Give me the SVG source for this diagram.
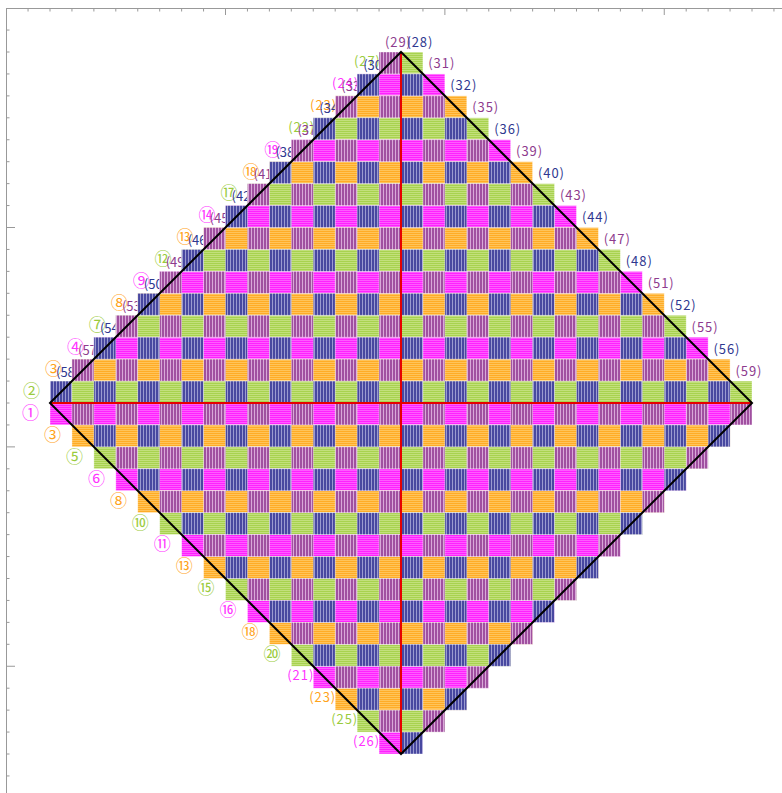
<svg xmlns="http://www.w3.org/2000/svg" width="782" height="793" viewBox="0 0 782 793">
<style>
text{font-family:"Noto Sans CJK JP","Noto Sans",sans-serif;font-size:13px}
text.c{font-size:17px}
.lb{fill:#2f3890}.lp{fill:#8e3b8e}.lm{fill:#ff33ff}.lo{fill:#ffa31a}.lg{fill:#9acb3c}
#cells rect{stroke:#fff;stroke-opacity:.55;stroke-width:.7;height:21.94px}
rect.g{fill:url(#pg)}rect.m{fill:url(#pm)}rect.o{fill:url(#po)}
.P rect{fill:url(#pp);width:21.94px}.B rect{fill:url(#pb);width:21.94px}
.ax{stroke:#999;stroke-width:1;fill:none}
</style>
<defs>
<pattern id="pm" width="2" height="2" patternUnits="userSpaceOnUse"><rect width="2" height="2" fill="#ff22ff"/><rect width="2" height="1" fill="#ff5cff"/></pattern>
<pattern id="po" width="2" height="2" patternUnits="userSpaceOnUse"><rect width="2" height="2" fill="#ffac26"/><rect width="2" height="1" fill="#ffc45a"/></pattern>
<pattern id="pg" width="2" height="2" patternUnits="userSpaceOnUse"><rect width="2" height="2" fill="#a8d24f"/><rect width="2" height="1" fill="#c2e07c"/></pattern>
<pattern id="pb" width="3" height="3" patternUnits="userSpaceOnUse"><rect width="3" height="3" fill="#4848a0"/><rect x="2" width="1" height="3" fill="#9a9ad0"/></pattern>
<pattern id="pp" width="3" height="3" patternUnits="userSpaceOnUse"><rect width="3" height="3" fill="#a050a0"/><rect x="2" width="1" height="3" fill="#d8a8d8"/></pattern>
</defs>
<g id="axes">
<path class="ax" d="M6.5 8V793M6 8.5H782"/>
<path class="ax" d="M7 30.06h2.5M7 52h2.5M7 73.94h2.5M7 95.88h2.5M7 117.81h2.5M7 139.75h2.5M7 161.69h2.5M7 183.63h2.5M7 205.56h2.5M7 227.5h8M7 249.44h2.5M7 271.38h2.5M7 293.31h2.5M7 315.25h2.5M7 337.19h2.5M7 359.13h2.5M7 381.06h2.5M7 403h2.5M7 424.94h2.5M7 446.88h8M7 468.81h2.5M7 490.75h2.5M7 512.69h2.5M7 534.63h2.5M7 556.56h2.5M7 578.5h2.5M7 600.44h2.5M7 622.38h2.5M7 644.31h2.5M7 666.25h8M7 688.19h2.5M7 710.13h2.5M7 732.06h2.5M7 754h2.5M7 775.94h2.5"/>
<path class="ax" d="M28.06 9v2.5M50 9v2.5M71.94 9v2.5M93.88 9v2.5M115.81 9v2.5M137.75 9v2.5M159.69 9v2.5M181.63 9v2.5M203.56 9v2.5M225.5 9v6M247.44 9v2.5M269.38 9v2.5M291.31 9v2.5M313.25 9v2.5M335.19 9v2.5M357.13 9v2.5M379.06 9v2.5M401 9v2.5M422.94 9v2.5M444.88 9v6M466.81 9v2.5M488.75 9v2.5M510.69 9v2.5M532.63 9v2.5M554.56 9v2.5M576.5 9v2.5M598.44 9v2.5M620.38 9v2.5M642.31 9v2.5M664.25 9v6M686.19 9v2.5M708.13 9v2.5M730.06 9v2.5M752 9v2.5M773.94 9v2.5"/>
</g>
<g id="labels">
<text class="lp" x="385" y="46.5" textLength="26">(29)</text>
<text class="lb" x="406.4" y="46.5" textLength="26">(28)</text>
<text class="lp" x="428.3" y="68.4" textLength="26">(31)</text>
<text class="lb" x="450.3" y="90.4" textLength="26">(32)</text>
<text class="lp" x="472.2" y="112.3" textLength="26">(35)</text>
<text class="lb" x="494.2" y="134.3" textLength="26">(36)</text>
<text class="lp" x="516.1" y="156.2" textLength="26">(39)</text>
<text class="lb" x="538" y="178.1" textLength="26">(40)</text>
<text class="lp" x="560" y="200.1" textLength="26">(43)</text>
<text class="lb" x="581.9" y="222" textLength="26">(44)</text>
<text class="lp" x="603.8" y="244" textLength="26">(47)</text>
<text class="lb" x="625.8" y="265.9" textLength="26">(48)</text>
<text class="lp" x="647.7" y="287.8" textLength="26">(51)</text>
<text class="lb" x="669.7" y="309.8" textLength="26">(52)</text>
<text class="lp" x="691.6" y="331.7" textLength="26">(55)</text>
<text class="lb" x="713.5" y="353.6" textLength="26">(56)</text>
<text class="lp" x="735.5" y="375.6" textLength="26">(59)</text>
<text class="lg c" x="23.1" y="396.8">②</text>
<text class="lo c" x="44.9" y="375">③</text><text class="lb" x="56" y="376.7">(58)</text>
<text class="lm c" x="66.9" y="353">④</text><text class="lp" x="78" y="354.7">(57)</text>
<text class="lg c" x="88.8" y="331.1">⑦</text><text class="lb" x="99.9" y="332.8">(54)</text>
<text class="lo c" x="110.8" y="309.1">⑧</text><text class="lp" x="121.9" y="310.8">(53)</text>
<text class="lm c" x="132.7" y="287.2">⑨</text><text class="lb" x="143.8" y="288.9">(50)</text>
<text class="lg c" x="154.6" y="265.3">⑫</text><text class="lp" x="165.7" y="267">(49)</text>
<text class="lo c" x="176.6" y="243.3">⑬</text><text class="lb" x="187.7" y="245">(46)</text>
<text class="lm c" x="198.5" y="221.4">⑭</text><text class="lp" x="209.6" y="223.1">(45)</text>
<text class="lg c" x="220.5" y="199.4">⑰</text><text class="lb" x="231.6" y="201.1">(42)</text>
<text class="lo c" x="242.4" y="177.5">⑱</text><text class="lp" x="253.5" y="179.2">(41)</text>
<text class="lm c" x="264.3" y="155.6">⑲</text><text class="lb" x="275.4" y="157.3">(38)</text>
<text class="lg" x="288.2" y="131.8" textLength="26">(22)</text><text class="lp" x="297.4" y="135.3">(37)</text>
<text class="lo" x="310.1" y="109.9" textLength="26">(23)</text><text class="lb" x="319.3" y="113.4">(34)</text>
<text class="lm" x="332.1" y="87.9" textLength="26">(24)</text><text class="lp" x="341.3" y="91.4">(33)</text>
<text class="lg" x="354" y="66" textLength="26">(27)</text><text class="lb" x="363.2" y="69.5">(30)</text>
<text class="lm c" x="22.1" y="418.8">①</text>
<text class="lo c" x="44" y="440.7">③</text>
<text class="lg c" x="66" y="462.7">⑤</text>
<text class="lm c" x="87.9" y="484.6">⑥</text>
<text class="lo c" x="109.9" y="506.6">⑧</text>
<text class="lg c" x="131.8" y="528.5">⑩</text>
<text class="lm c" x="153.7" y="550.4">⑪</text>
<text class="lo c" x="175.7" y="572.4">⑬</text>
<text class="lg c" x="197.6" y="594.3">⑮</text>
<text class="lm c" x="219.6" y="616.3">⑯</text>
<text class="lo c" x="241.5" y="638.2">⑱</text>
<text class="lg c" x="263.4" y="660.1">⑳</text>
<text class="lm" x="287.3" y="679.8" textLength="26">(21)</text>
<text class="lo" x="309.2" y="701.7" textLength="26">(23)</text>
<text class="lg" x="331.2" y="723.6" textLength="26">(25)</text>
<text class="lm" x="353.1" y="745.6" textLength="26">(26)</text>
</g>
<g id="cells">
<g id="solids">
<rect class="g" x="379.06" y="52" width="43.88"/>
<rect class="m" x="357.13" y="73.94" width="87.75"/>
<rect class="o" x="335.19" y="95.88" width="131.63"/>
<rect class="g" x="313.25" y="117.81" width="175.5"/>
<rect class="m" x="291.31" y="139.75" width="219.38"/>
<rect class="o" x="269.38" y="161.69" width="263.25"/>
<rect class="g" x="247.44" y="183.63" width="307.13"/>
<rect class="m" x="225.5" y="205.56" width="351"/>
<rect class="o" x="203.56" y="227.5" width="394.88"/>
<rect class="g" x="181.63" y="249.44" width="438.75"/>
<rect class="m" x="159.69" y="271.38" width="482.63"/>
<rect class="o" x="137.75" y="293.31" width="526.5"/>
<rect class="g" x="115.81" y="315.25" width="570.38"/>
<rect class="m" x="93.88" y="337.19" width="614.25"/>
<rect class="o" x="71.94" y="359.13" width="658.13"/>
<rect class="g" x="50" y="381.06" width="702"/>
<rect class="m" x="50" y="403" width="702"/>
<rect class="o" x="71.94" y="424.94" width="658.13"/>
<rect class="g" x="93.88" y="446.88" width="614.25"/>
<rect class="m" x="115.81" y="468.81" width="570.38"/>
<rect class="o" x="137.75" y="490.75" width="526.5"/>
<rect class="g" x="159.69" y="512.69" width="482.63"/>
<rect class="m" x="181.63" y="534.63" width="438.75"/>
<rect class="o" x="203.56" y="556.56" width="394.88"/>
<rect class="g" x="225.5" y="578.5" width="351"/>
<rect class="m" x="247.44" y="600.44" width="307.13"/>
<rect class="o" x="269.38" y="622.38" width="263.25"/>
<rect class="g" x="291.31" y="644.31" width="219.38"/>
<rect class="m" x="313.25" y="666.25" width="175.5"/>
<rect class="o" x="335.19" y="688.19" width="131.63"/>
<rect class="g" x="357.13" y="710.13" width="87.75"/>
<rect class="m" x="379.06" y="732.06" width="43.88"/>
</g>
<g class="P" transform="translate(0,52)"><rect x="379.06"/></g>
<g class="B" transform="translate(0,73.94)"><rect x="357.13"/><rect x="401"/></g>
<g class="P" transform="translate(0,95.88)"><rect x="335.19"/><rect x="379.06"/><rect x="422.94"/></g>
<g class="B" transform="translate(0,117.81)"><rect x="313.25"/><rect x="357.13"/><rect x="401"/><rect x="444.88"/></g>
<g class="P" transform="translate(0,139.75)"><rect x="291.31"/><rect x="335.19"/><rect x="379.06"/><rect x="422.94"/><rect x="466.81"/></g>
<g class="B" transform="translate(0,161.69)"><rect x="269.38"/><rect x="313.25"/><rect x="357.13"/><rect x="401"/><rect x="444.88"/><rect x="488.75"/></g>
<g class="P" transform="translate(0,183.63)"><rect x="247.44"/><rect x="291.31"/><rect x="335.19"/><rect x="379.06"/><rect x="422.94"/><rect x="466.81"/><rect x="510.69"/></g>
<g class="B" transform="translate(0,205.56)"><rect x="225.5"/><rect x="269.38"/><rect x="313.25"/><rect x="357.13"/><rect x="401"/><rect x="444.88"/><rect x="488.75"/><rect x="532.63"/></g>
<g class="P" transform="translate(0,227.5)"><rect x="203.56"/><rect x="247.44"/><rect x="291.31"/><rect x="335.19"/><rect x="379.06"/><rect x="422.94"/><rect x="466.81"/><rect x="510.69"/><rect x="554.56"/></g>
<g class="B" transform="translate(0,249.44)"><rect x="181.63"/><rect x="225.5"/><rect x="269.38"/><rect x="313.25"/><rect x="357.13"/><rect x="401"/><rect x="444.88"/><rect x="488.75"/><rect x="532.63"/><rect x="576.5"/></g>
<g class="P" transform="translate(0,271.38)"><rect x="159.69"/><rect x="203.56"/><rect x="247.44"/><rect x="291.31"/><rect x="335.19"/><rect x="379.06"/><rect x="422.94"/><rect x="466.81"/><rect x="510.69"/><rect x="554.56"/><rect x="598.44"/></g>
<g class="B" transform="translate(0,293.31)"><rect x="137.75"/><rect x="181.63"/><rect x="225.5"/><rect x="269.38"/><rect x="313.25"/><rect x="357.13"/><rect x="401"/><rect x="444.88"/><rect x="488.75"/><rect x="532.63"/><rect x="576.5"/><rect x="620.38"/></g>
<g class="P" transform="translate(0,315.25)"><rect x="115.81"/><rect x="159.69"/><rect x="203.56"/><rect x="247.44"/><rect x="291.31"/><rect x="335.19"/><rect x="379.06"/><rect x="422.94"/><rect x="466.81"/><rect x="510.69"/><rect x="554.56"/><rect x="598.44"/><rect x="642.31"/></g>
<g class="B" transform="translate(0,337.19)"><rect x="93.88"/><rect x="137.75"/><rect x="181.63"/><rect x="225.5"/><rect x="269.38"/><rect x="313.25"/><rect x="357.13"/><rect x="401"/><rect x="444.88"/><rect x="488.75"/><rect x="532.63"/><rect x="576.5"/><rect x="620.38"/><rect x="664.25"/></g>
<g class="P" transform="translate(0,359.13)"><rect x="71.94"/><rect x="115.81"/><rect x="159.69"/><rect x="203.56"/><rect x="247.44"/><rect x="291.31"/><rect x="335.19"/><rect x="379.06"/><rect x="422.94"/><rect x="466.81"/><rect x="510.69"/><rect x="554.56"/><rect x="598.44"/><rect x="642.31"/><rect x="686.19"/></g>
<g class="B" transform="translate(0,381.06)"><rect x="50"/><rect x="93.88"/><rect x="137.75"/><rect x="181.63"/><rect x="225.5"/><rect x="269.38"/><rect x="313.25"/><rect x="357.13"/><rect x="401"/><rect x="444.88"/><rect x="488.75"/><rect x="532.63"/><rect x="576.5"/><rect x="620.38"/><rect x="664.25"/><rect x="708.13"/></g>
<g class="P" transform="translate(0,403)"><rect x="71.94"/><rect x="115.81"/><rect x="159.69"/><rect x="203.56"/><rect x="247.44"/><rect x="291.31"/><rect x="335.19"/><rect x="379.06"/><rect x="422.94"/><rect x="466.81"/><rect x="510.69"/><rect x="554.56"/><rect x="598.44"/><rect x="642.31"/><rect x="686.19"/><rect x="730.06"/></g>
<g class="B" transform="translate(0,424.94)"><rect x="93.88"/><rect x="137.75"/><rect x="181.63"/><rect x="225.5"/><rect x="269.38"/><rect x="313.25"/><rect x="357.13"/><rect x="401"/><rect x="444.88"/><rect x="488.75"/><rect x="532.63"/><rect x="576.5"/><rect x="620.38"/><rect x="664.25"/><rect x="708.13"/></g>
<g class="P" transform="translate(0,446.88)"><rect x="115.81"/><rect x="159.69"/><rect x="203.56"/><rect x="247.44"/><rect x="291.31"/><rect x="335.19"/><rect x="379.06"/><rect x="422.94"/><rect x="466.81"/><rect x="510.69"/><rect x="554.56"/><rect x="598.44"/><rect x="642.31"/><rect x="686.19"/></g>
<g class="B" transform="translate(0,468.81)"><rect x="137.75"/><rect x="181.63"/><rect x="225.5"/><rect x="269.38"/><rect x="313.25"/><rect x="357.13"/><rect x="401"/><rect x="444.88"/><rect x="488.75"/><rect x="532.63"/><rect x="576.5"/><rect x="620.38"/><rect x="664.25"/></g>
<g class="P" transform="translate(0,490.75)"><rect x="159.69"/><rect x="203.56"/><rect x="247.44"/><rect x="291.31"/><rect x="335.19"/><rect x="379.06"/><rect x="422.94"/><rect x="466.81"/><rect x="510.69"/><rect x="554.56"/><rect x="598.44"/><rect x="642.31"/></g>
<g class="B" transform="translate(0,512.69)"><rect x="181.63"/><rect x="225.5"/><rect x="269.38"/><rect x="313.25"/><rect x="357.13"/><rect x="401"/><rect x="444.88"/><rect x="488.75"/><rect x="532.63"/><rect x="576.5"/><rect x="620.38"/></g>
<g class="P" transform="translate(0,534.63)"><rect x="203.56"/><rect x="247.44"/><rect x="291.31"/><rect x="335.19"/><rect x="379.06"/><rect x="422.94"/><rect x="466.81"/><rect x="510.69"/><rect x="554.56"/><rect x="598.44"/></g>
<g class="B" transform="translate(0,556.56)"><rect x="225.5"/><rect x="269.38"/><rect x="313.25"/><rect x="357.13"/><rect x="401"/><rect x="444.88"/><rect x="488.75"/><rect x="532.63"/><rect x="576.5"/></g>
<g class="P" transform="translate(0,578.5)"><rect x="247.44"/><rect x="291.31"/><rect x="335.19"/><rect x="379.06"/><rect x="422.94"/><rect x="466.81"/><rect x="510.69"/><rect x="554.56"/></g>
<g class="B" transform="translate(0,600.44)"><rect x="269.38"/><rect x="313.25"/><rect x="357.13"/><rect x="401"/><rect x="444.88"/><rect x="488.75"/><rect x="532.63"/></g>
<g class="P" transform="translate(0,622.38)"><rect x="291.31"/><rect x="335.19"/><rect x="379.06"/><rect x="422.94"/><rect x="466.81"/><rect x="510.69"/></g>
<g class="B" transform="translate(0,644.31)"><rect x="313.25"/><rect x="357.13"/><rect x="401"/><rect x="444.88"/><rect x="488.75"/></g>
<g class="P" transform="translate(0,666.25)"><rect x="335.19"/><rect x="379.06"/><rect x="422.94"/><rect x="466.81"/></g>
<g class="B" transform="translate(0,688.19)"><rect x="357.13"/><rect x="401"/><rect x="444.88"/></g>
<g class="P" transform="translate(0,710.13)"><rect x="379.06"/><rect x="422.94"/></g>
<g class="B" transform="translate(0,732.06)"><rect x="401"/></g>
</g>
<g id="connectors">
<path d="M50 403H752M401 52V754" fill="none" stroke="#e60000" stroke-width="2"/>
<path d="M50 403L401 52L752 403L401 754Z" fill="none" stroke="#000" stroke-width="2" stroke-linejoin="miter"/>
</g>
</svg>
